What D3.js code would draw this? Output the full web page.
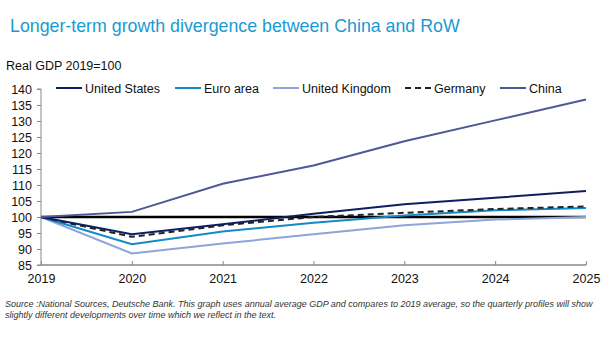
<!DOCTYPE html>
<html>
<head>
<meta charset="utf-8">
<script src="https://cdn.jsdelivr.net/npm/d3@7"></script>
<style>
  html, body { margin: 0; padding: 0; background: #fff; }
  svg { display: block; font-family: "Liberation Sans", Arial, sans-serif; }
</style>
</head>
<body>
<svg id="chart" width="605" height="341"></svg>
<script>
// Real GDP indexed to 2019 = 100
const years = [2019, 2020, 2021, 2022, 2023, 2024, 2025];
const unitedStates  = [100, 94.6, 97.7, 101.0, 104.0, 106.0, 108.1];
const euroArea      = [100, 91.5, 95.5, 98.2, 100.5, 102.1, 102.8];
const unitedKingdom = [100, 88.6, 91.7, 94.6, 97.4, 99.2, 100.0];
const germany       = [100, 93.8, 97.4, 100.0, 101.3, 102.5, 103.3];
const china         = [100, 101.6, 110.4, 116.1, 123.7, 130.2, 136.7];
const yTicks = [85, 90, 95, 100, 105, 110, 115, 120, 125, 130, 135, 140];

const series = [
  { name: "United States",  values: unitedStates,  color: "#0d1f5e", dash: null },
  { name: "Euro area",      values: euroArea,      color: "#138ac4", dash: null },
  { name: "United Kingdom", values: unitedKingdom, color: "#8ca5da", dash: null },
  { name: "Germany",        values: germany,       color: "#222222", dash: "6,4" },
  { name: "China",          values: china,         color: "#4e5895", dash: null }
];

const svg = d3.select("#chart");
const x = d3.scaleLinear().domain([2019, 2025]).range([41, 586]);
const y = d3.scaleLinear().domain([85, 140]).range([265, 89]);

// Title and axis caption
svg.append("text").attr("x", 10).attr("y", 32)
  .attr("font-size", 17.8).attr("fill", "#1a9ad2")
  .text("Longer-term growth divergence between China and RoW");
svg.append("text").attr("x", 6).attr("y", 69.5)
  .attr("font-size", 12.5).attr("fill", "#111")
  .text("Real GDP 2019=100");

// Y axis
const yAxis = svg.append("g").attr("transform", "translate(41,0)")
  .call(d3.axisLeft(y).tickValues(yTicks).tickSize(4).tickPadding(5));
yAxis.selectAll("text").attr("font-size", 12.5).attr("fill", "#111")
  .attr("font-family", "Liberation Sans, Arial, sans-serif");
yAxis.selectAll("line, path").attr("stroke", "#888");
yAxis.select(".domain").attr("d", "M-4,89H0V265H-4");

// X axis
const xAxis = svg.append("g").attr("transform", "translate(0,265)")
  .call(d3.axisBottom(x).tickValues(years).tickFormat(d3.format("d")).tickSize(-4).tickPadding(9));
xAxis.selectAll("text").attr("font-size", 12.5).attr("fill", "#111")
  .attr("font-family", "Liberation Sans, Arial, sans-serif");
xAxis.selectAll("line").attr("stroke", "#888");
xAxis.select(".domain").attr("stroke", "#888").attr("stroke-width", 1.5).attr("d", "M41,0H586");

// Baseline at 100
svg.append("line").attr("x1", x(2019)).attr("x2", x(2025))
  .attr("y1", y(100)).attr("y2", y(100))
  .attr("stroke", "#000").attr("stroke-width", 2.5);

const line = d3.line().x((d, i) => x(years[i])).y(d => y(d));
// draw order: UK, Euro, Germany, US, China
[2, 1, 3, 0, 4].forEach(i => {
  const s = series[i];
  svg.append("path").attr("d", line(s.values))
    .attr("fill", "none").attr("stroke", s.color)
    .attr("stroke-width", 2)
    .attr("stroke-dasharray", s.dash);
});

// Legend
const legendX = [56, 175, 273, 405, 500];
series.forEach((s, i) => {
  const g = svg.append("g").attr("transform", `translate(${legendX[i]},88)`);
  g.append("line").attr("x1", 0).attr("x2", 26).attr("y1", 0).attr("y2", 0)
    .attr("stroke", s.color).attr("stroke-width", 2)
    .attr("stroke-dasharray", s.dash ? "6,4" : null);
  g.append("text").attr("x", 29).attr("y", 4.5)
    .attr("font-size", 12.5).attr("fill", "#111").text(s.name);
});

// Source note
const note = svg.append("text").attr("font-size", 9).attr("font-style", "italic").attr("fill", "#333");
note.append("tspan").attr("x", 5).attr("y", 307)
  .text("Source :National Sources, Deutsche Bank. This graph uses annual average GDP and compares to 2019 average, so the quarterly profiles will show");
note.append("tspan").attr("x", 5).attr("y", 318)
  .text("slightly different  developments over time which we reflect in the text.");
</script>
</body>
</html>
